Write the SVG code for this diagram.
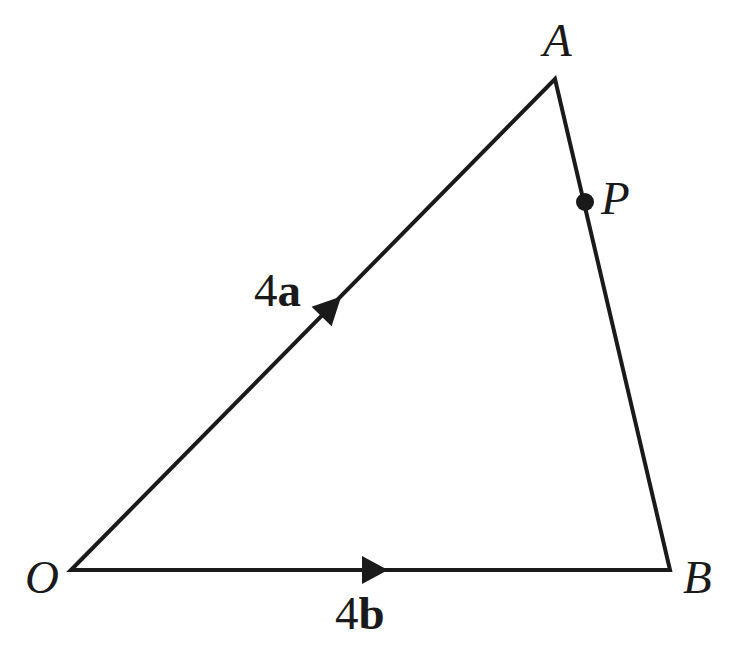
<svg xmlns="http://www.w3.org/2000/svg" width="735" height="657" viewBox="0 0 735 657">
<style>
.edge{stroke:#1a1a1a;stroke-width:4;fill:none;stroke-linejoin:miter}
.lbl{font-family:"Liberation Serif",serif;font-size:47px;fill:#1a1a1a}
.it{font-style:italic}
.bf{font-weight:bold}
.head{fill:#1a1a1a}
</style>
<rect width="735" height="657" fill="#fff"/>
<g id="connectors">
<path class="edge" d="M71,570 L555,79 L670,570 Z"/>
<polygon class="head" points="388,570 362,556 362,584"/>
<polygon class="head" transform="translate(330,308) rotate(-45.5)" points="16,0 -12,-14 -12,14"/>
</g>
<g id="node-O"><text class="lbl it" x="25" y="593">O</text></g>
<g id="node-A"><text class="lbl it" x="543" y="56">A</text></g>
<g id="node-B"><text class="lbl it" x="683" y="593">B</text></g>
<g id="node-P"><circle cx="585" cy="202" r="9" fill="#1a1a1a"/><text class="lbl it" x="601" y="214">P</text></g>
<g id="label-4a"><text class="lbl" x="254" y="306">4<tspan class="bf">a</tspan></text></g>
<g id="label-4b"><text class="lbl" x="335" y="629">4<tspan class="bf">b</tspan></text></g>
</svg>
